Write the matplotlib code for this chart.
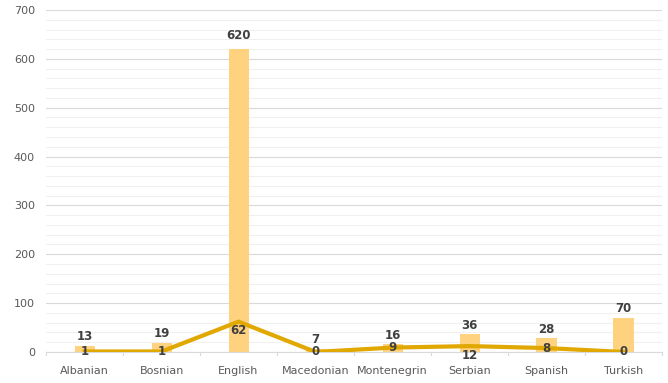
import matplotlib
matplotlib.use("Agg")
import matplotlib.pyplot as plt
import numpy as np

categories = ["Albanian", "Bosnian", "English", "Macedonian", "Montenegrin", "Serbian", "Spanish", "Turkish"]
bar_values = [13, 19, 620, 7, 16, 36, 28, 70]
line_values = [1, 1, 62, 0, 9, 12, 8, 0]
line_label_pos = ["c", "c", "b", "c", "c", "b", "c", "c"]

fig = plt.figure(figsize=(6.68, 3.83), dpi=100)
ax = fig.add_axes([0.069, 0.081, 0.922, 0.893])

x = np.arange(len(categories))
ax.bar(x, bar_values, width=0.26, color="#FFD27F", zorder=2)
ax.plot(x, line_values, color="#E0A800", linewidth=3, zorder=3, solid_joinstyle="miter")

for xi, v in zip(x, bar_values):
    off = 14 if v > 300 else 5
    ax.text(xi, v + off, str(v), ha="center", va="bottom", fontsize=8.5, fontweight="bold", color="#404040", zorder=4)
for xi, v, p in zip(x, line_values, line_label_pos):
    if p == "c":
        ax.text(xi, v, str(v), ha="center", va="center", fontsize=8.5, fontweight="bold", color="#404040", zorder=4)
    else:
        ax.text(xi, v - 5, str(v), ha="center", va="top", fontsize=8.5, fontweight="bold", color="#404040", zorder=4)

ax.set_xlim(-0.5, len(categories) - 0.5)
ax.set_ylim(0, 700)
ax.set_yticks(range(0, 701, 100))
ax.set_yticks(range(0, 701, 20), minor=True)
ax.set_xticks(x)
ax.set_xticklabels(categories)
ax.tick_params(axis="both", which="both", length=0, labelsize=8, colors="#595959")
ax.tick_params(axis="y", pad=8)
ax.tick_params(axis="x", pad=10)
ax.grid(axis="y", which="major", color="#D9D9D9", linewidth=0.8, zorder=0)
ax.grid(axis="y", which="minor", color="#F0F0F0", linewidth=0.8, zorder=0)
for s in ["top", "right", "left"]:
    ax.spines[s].set_visible(False)
ax.spines["bottom"].set_color("#D9D9D9")
for b in np.arange(-0.5, len(categories) + 0.5, 1):
    ax.plot([b, b], [0, -6], color="#D9D9D9", linewidth=0.8, clip_on=False, zorder=1)

fig.savefig("out.png", dpi=100)
